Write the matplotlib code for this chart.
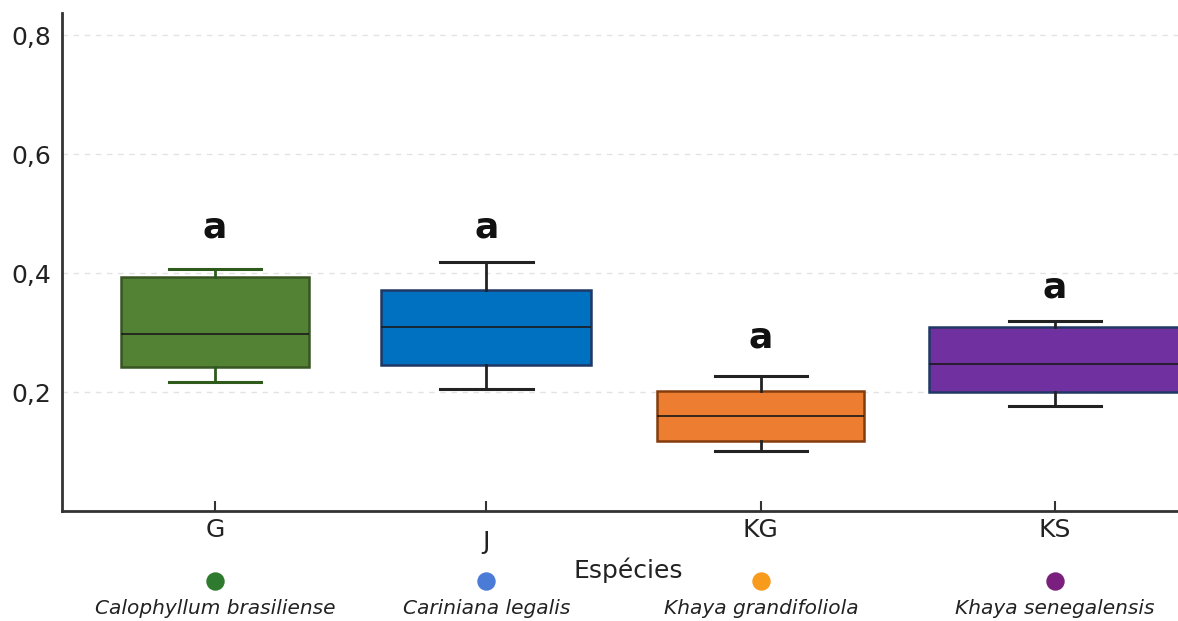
import matplotlib
matplotlib.use("Agg")
import matplotlib.pyplot as plt
import matplotlib.transforms as mtransforms
from matplotlib.ticker import FixedLocator, FuncFormatter

# ---- data ----
categories = ["G", "J", "KG", "KS"]
species = ["Calophyllum brasiliense", "Cariniana legalis", "Khaya grandifoliola", "Khaya senegalensis"]
whisker_low = [0.217, 0.205, 0.101, 0.176]
q1 = [0.242, 0.245, 0.118, 0.200]
median = [0.297, 0.309, 0.160, 0.248]
q3 = [0.393, 0.371, 0.202, 0.309]
whisker_high = [0.407, 0.418, 0.227, 0.320]
letters = ["a", "a", "a", "a"]
letter_y = [0.476, 0.477, 0.292, 0.376]
y_ticks = [0.2, 0.4, 0.6, 0.8]

# ---- layout / styles ----
positions = [0.0, 0.97, 1.95, 3.0]
widths = [0.67, 0.75, 0.74, 0.90]
box_face = ["#548235", "#0070C0", "#ED7D31", "#7030A0"]
box_edge = ["#375623", "#1F3864", "#843C0C", "#203864"]
whisk_col = ["#2E5A1C", "#222222", "#222222", "#222222"]
dot_col = ["#2E7A2E", "#4A7BD6", "#F89A1C", "#7B1F7F"]

fig = plt.figure(figsize=(11.78, 6.21), dpi=100)
ax = fig.add_axes([0.0526, 0.177, 0.9474, 0.802])

stats = []
for i, c in enumerate(categories):
    stats.append(dict(label=c, whislo=whisker_low[i], q1=q1[i], med=median[i],
                      q3=q3[i], whishi=whisker_high[i], fliers=[]))

for i in range(len(categories)):
    ax.bxp([stats[i]], positions=[positions[i]], widths=[widths[i]],
           capwidths=[0.33], patch_artist=True, showfliers=False,
           boxprops=dict(facecolor=box_face[i], edgecolor=box_edge[i], linewidth=1.8),
           medianprops=dict(color="#1a1a1a", linewidth=1.2),
           whiskerprops=dict(color=whisk_col[i], linewidth=2),
           capprops=dict(color=whisk_col[i], linewidth=2.2),
           manage_ticks=False, zorder=3)

for i in range(len(categories)):
    ax.text(positions[i], letter_y[i], letters[i], ha="center", va="center",
            fontsize=26, fontweight="bold", color="#111111", zorder=4)

ax.set_xlim(-0.546, 3.44)
ax.set_ylim(0, 0.837)

for y in y_ticks:
    ax.axhline(y, color="#e3e3e3", linestyle=(0, (4, 4)), linewidth=1, zorder=1)

ax.yaxis.set_major_locator(FixedLocator(y_ticks))
ax.yaxis.set_major_formatter(FuncFormatter(lambda v, p: f"{v:.1f}".replace(".", ",")))
ax.tick_params(axis="y", length=0, labelsize=18, labelcolor="#222222", pad=8)

ax.set_xticks(positions)
ax.set_xticklabels(categories)
ax.tick_params(axis="x", direction="in", length=7, width=1.5, color="#333333",
               labelsize=18, labelcolor="#222222", pad=5)
# J label sits a little lower in the reference
lbls = ax.get_xticklabels()
lbls[1].set_transform(lbls[1].get_transform() +
                      mtransforms.ScaledTranslation(0, -12 / 100, fig.dpi_scale_trans))

for s in ["top", "right"]:
    ax.spines[s].set_visible(False)
for s in ["left", "bottom"]:
    ax.spines[s].set_linewidth(2)
    ax.spines[s].set_color("#333333")

# x-axis title
ax.text(0.507, -0.118, "Espécies", transform=ax.transAxes, ha="center", va="center",
        fontsize=18, color="#222222")

# legend: dots and italic names under each category
trans = mtransforms.blended_transform_factory(ax.transData, fig.transFigure)
for i in range(len(categories)):
    ax.scatter([positions[i]], [1 - 581 / 621], s=150, color=dot_col[i],
               transform=trans, clip_on=False, zorder=5)
    ax.text(positions[i], 1 - 608 / 621, species[i], transform=trans, ha="center",
            va="center", fontsize=14.5, fontstyle="italic", color="#222222", clip_on=False)

fig.savefig("out.png", dpi=100, facecolor="white")
